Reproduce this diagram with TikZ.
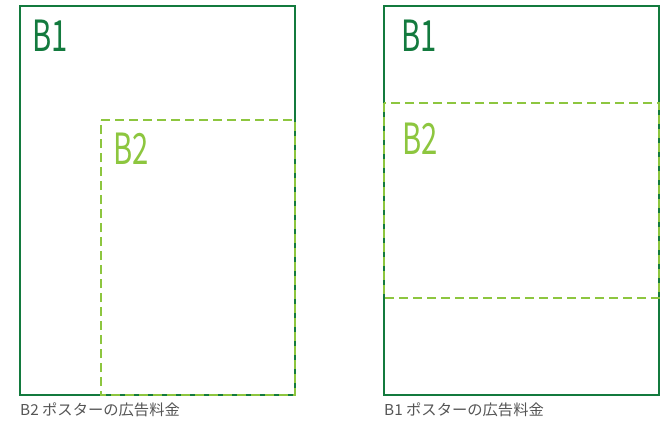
\documentclass[tikz,border=0pt]{standalone}
\usepackage{fontspec}
\newfontfamily\jpfont{Noto Sans CJK JP}
\definecolor{darkg}{HTML}{137A3E}
\definecolor{lightg}{HTML}{8DC63F}
\definecolor{capgray}{HTML}{555555}
\begin{document}
\begin{tikzpicture}[x=1pt,y=-1pt,
  sheetb1/.style={draw=darkg,line width=2.2pt},
  sheetb2/.style={draw=lightg,line width=2.2pt,dash pattern=on 9pt off 5pt},
  bigb1/.style={anchor=base west,inner sep=0pt,text=darkg,font=\jpfont\fontsize{43}{43}\selectfont,xscale=0.68},
  bigb2/.style={anchor=base west,inner sep=0pt,text=lightg,font=\jpfont\fontsize{43}{43}\selectfont,xscale=0.68},
  caption/.style={anchor=base west,inner sep=0pt,text=capgray,font=\jpfont\fontsize{15}{15}\selectfont,xscale=1.02}]
\useasboundingbox (0,0) rectangle (668,420);
% left
\draw[sheetb1] (20,6) rectangle (295,395);
\draw[sheetb2] (101,120) -- (295,120) -- (295,395) -- (101,395) -- cycle;
\node[bigb1] (l1) at (32,52) {B1};
\node[bigb2] (l2) at (113,164) {B2};
\node[caption] (c1) at (20,415) {B2 ポスターの広告料金};
% right
\draw[sheetb1] (384,6) rectangle (659,395);
\draw[sheetb2] (384,103) rectangle (659,298);
\node[bigb1] (r1) at (401,52) {B1};
\node[bigb2] (r2) at (402,154) {B2};
\node[caption] (c2) at (384,415) {B1 ポスターの広告料金};
\end{tikzpicture}
\end{document}
